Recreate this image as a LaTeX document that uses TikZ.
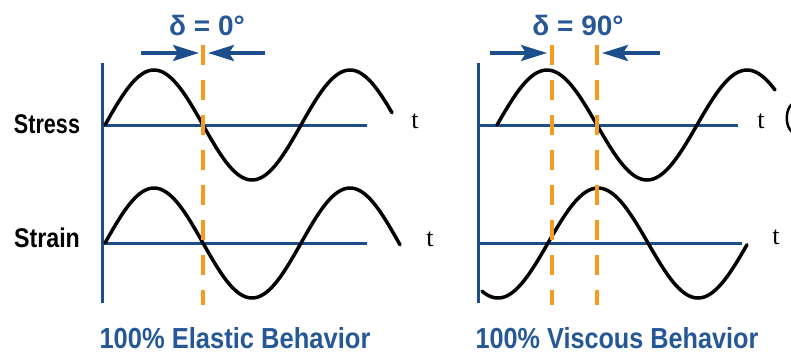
\documentclass[tikz,border=0pt]{standalone}
\usepackage{fontspec}
\setmainfont{Liberation Sans}
\newfontfamily\tfont{Liberation Serif}
\usetikzlibrary{arrows.meta}
\definecolor{dblue}{RGB}{28,78,140}
\definecolor{tblue}{RGB}{38,88,152}
\definecolor{orng}{RGB}{245,155,30}
\begin{document}
\begin{tikzpicture}[x=1pt,y=-1pt,
  axisline/.style={draw=dblue, line width=3pt},
  wave/.style={draw=black, line width=3.5pt, line cap=round},
  phaseline/.style={draw=orng, line width=3.5pt, dash pattern=on 20pt off 15pt},
  darrow/.style={draw=dblue, line width=3.5pt, -{Stealth[length=26pt,width=16pt,inset=5pt]}},
  dlabel/.style={anchor=base, text=tblue, font=\bfseries\fontsize{28}{28}\selectfont, inner sep=0pt},
  rowlabel/.style={anchor=base, text=black, font=\bfseries\fontsize{27}{27}\selectfont, inner sep=0pt},
  tlabel/.style={anchor=base, text=black, font=\tfont\fontsize{26}{26}\selectfont, inner sep=0pt},
  title/.style={anchor=base, text=tblue, font=\bfseries\fontsize{29}{29}\selectfont, inner sep=0pt}
]
\useasboundingbox (0,0) rectangle (791,354);
% ---------- left panel ----------
\coordinate (LvTop) at (102,63);
\coordinate (LvBot) at (102,303);
\coordinate (LsA) at (102,125);
\coordinate (LsB) at (367,125);
\coordinate (LeA) at (102,243);
\coordinate (LeB) at (367,243);
\draw[axisline] (LvTop) -- (LvBot);
\draw[axisline] (LsA) -- (LsB);
\draw[axisline] (LeA) -- (LeB);
\draw[wave] plot[domain=105:392, samples=120, smooth] (\x, {125-55*sin((\x-105)*1.8367)});
\draw[wave] plot[domain=105:400, samples=120, smooth] (\x, {243-55*sin((\x-105)*1.8367)});
\coordinate (LpTop) at (203,45);
\coordinate (LpBot) at (203,305);
\draw[phaseline] (LpTop) -- (LpBot);
\coordinate (LaL) at (141,53);
\coordinate (LaLt) at (199,53);
\coordinate (LaR) at (265,53);
\coordinate (LaRt) at (208,53);
\draw[darrow] (LaL) -- (LaLt);
\draw[darrow] (LaR) -- (LaRt);
\node[dlabel] (d0) at (207,35) {δ = 0°};
\node[rowlabel] (stress) at (47,133) {\scalebox{0.8}[1]{Stress}};
\node[rowlabel] (strain) at (47,247) {\scalebox{0.86}[1]{Strain}};
\node[tlabel] (t1) at (415,128) {t};
\node[tlabel] (t2) at (430,246) {t};
\node[title] (el) at (235,348) {\scalebox{0.88}[1]{100\% Elastic Behavior}};
% ---------- right panel ----------
\coordinate (RvTop) at (478,63);
\coordinate (RvBot) at (478,303);
\coordinate (RsA) at (478,125);
\coordinate (RsB) at (738,125);
\coordinate (ReA) at (478,243);
\coordinate (ReB) at (742,243);
\draw[axisline] (RvTop) -- (RvBot);
\draw[axisline] (RsA) -- (RsB);
\draw[axisline] (ReA) -- (ReB);
\draw[wave] plot[domain=497:775, samples=120, smooth] (\x, {125-55*sin((\x-497)*1.8)});
\draw[wave] plot[domain=482:747, samples=120, smooth] (\x, {243-55*sin((\x-548)*1.8)});
\coordinate (Rp1Top) at (552,45);
\coordinate (Rp1Bot) at (552,305);
\coordinate (Rp2Top) at (597,45);
\coordinate (Rp2Bot) at (597,305);
\draw[phaseline] (Rp1Top) -- (Rp1Bot);
\draw[phaseline] (Rp2Top) -- (Rp2Bot);
\coordinate (RaL) at (490,53);
\coordinate (RaLt) at (547,53);
\coordinate (RaR) at (660,53);
\coordinate (RaRt) at (602,53);
\draw[darrow] (RaL) -- (RaLt);
\draw[darrow] (RaR) -- (RaRt);
\node[dlabel] (d90) at (578,35) {δ = 90°};
\node[tlabel] (t3) at (761,128) {t};
\node[tlabel] (t4) at (776,244) {t};
\node[title] (vi) at (617,348) {\scalebox{0.87}[1]{100\% Viscous Behavior}};
% clipped glyph at the right edge
\draw[black, line width=2.5pt] (792,104) .. controls (785,110) and (785,126) .. (792,132);
\end{tikzpicture}
\end{document}
